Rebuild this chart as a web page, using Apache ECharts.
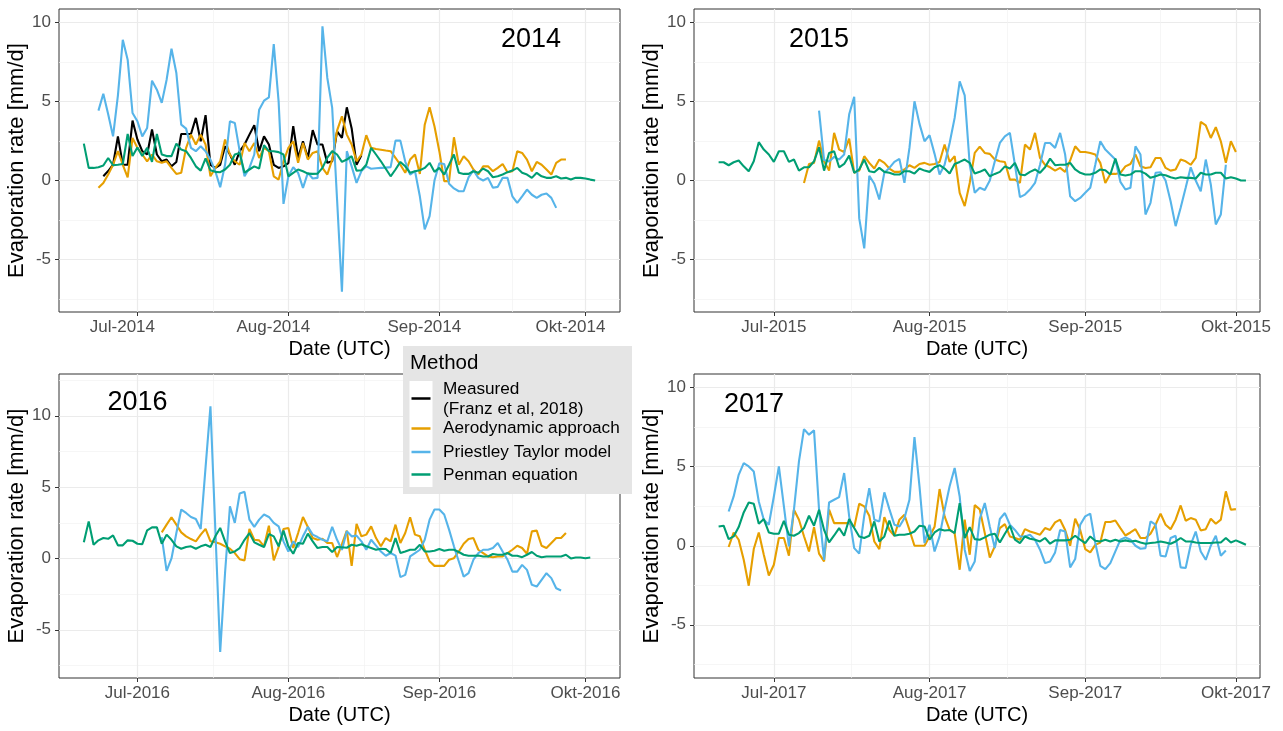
<!DOCTYPE html>
<html><head><meta charset="utf-8">
<script src="https://cdn.jsdelivr.net/npm/echarts@6/dist/echarts.min.js"></script>
<style>html,body{margin:0;padding:0;background:#fff}#c{width:1283px;height:731px}</style>
</head><body><div id="c"></div><script>
// ---------------- DATA ----------------
const monthStarts = ['07-01', '08-01', '09-01', '10-01'];
const xLabels2014 = ['Jul-2014', 'Aug-2014', 'Sep-2014', 'Okt-2014'];
const xLabels2015 = ['Jul-2015', 'Aug-2015', 'Sep-2015', 'Okt-2015'];
const xLabels2016 = ['Jul-2016', 'Aug-2016', 'Sep-2016', 'Okt-2016'];
const xLabels2017 = ['Jul-2017', 'Aug-2017', 'Sep-2017', 'Okt-2017'];
const yTicks = [-5, 0, 5, 10];
const yMinorTicks = [-7.5, -2.5, 2.5, 7.5];
const yMinorTicks2016 = [-7.5, -2.5, 2.5, 7.5, 12.5];
const methodNames = ['Measured\n(Franz et al, 2018)', 'Aerodynamic approach', 'Priestley Taylor model', 'Penman equation'];

// 2014
const measured2014Start = '2014-06-24';
const measured2014 = [0.27,0.6,1.0,2.8,1.0,1.0,3.8,2.6,1.86,1.65,3.23,1.65,1.22,1.33,0.9,1.18,2.95,2.95,2.95,3.97,2.49,4.14,1.0,0.8,1.0,2.17,1.65,1.0,1.86,2.28,2.91,3.5,1.86,2.8,2.28,1.0,0.8,0.9,1.1,3.44,1.43,2.49,1.43,3.19,2.28,2.28,1.12,1.22,3.12,2.7,4.64,3.3,1.0,1.6];
const aero2014Start = '2014-06-23';
const aero2014 = [-0.46,-0.15,0.38,1.0,1.86,1.0,0.2,2.7,2.07,1.65,1.22,1.65,1.22,1.12,1.22,0.8,0.42,0.49,2.07,2.91,2.28,2.91,2.28,0.27,0.8,1.22,2.6,1.65,1.22,1.0,2.38,1.86,2.38,1.43,2.07,1.86,0.27,0.06,1.22,2.07,2.49,1.12,2.38,1.33,1.75,1.86,0.8,0.38,1.33,3.16,4.07,2.91,2.28,1.22,1.65,2.87,2.07,2.0,1.95,1.9,1.86,1.43,1.0,0.49,1.33,1.65,0.42,3.54,4.64,3.44,1.86,-0.04,-0.04,2.74,1.0,1.54,1.22,0.7,0.38,0.9,0.9,0.59,0.8,1.05,0.53,0.59,1.86,1.75,1.33,0.59,1.18,1.0,0.7,0.38,1.12,1.33,1.33];
const pt2014Start = '2014-06-23';
const pt2014 = [4.43,5.5,4.2,2.8,5.4,8.92,7.66,4.28,3.76,2.8,3.33,6.33,5.76,4.92,6.39,8.35,6.81,3.54,3.29,2.07,1.86,2.17,1.86,1.33,0.59,-0.42,1.0,3.75,3.65,1.86,0.27,0.8,1.65,4.49,5.06,5.27,8.65,5.0,-1.48,0.27,0.84,0.49,-0.46,0.49,0.13,0.17,9.77,6.5,4.6,-1.2,-7.05,1.86,0.9,-0.15,0.6,0.9,0.75,0.78,0.8,0.82,0.85,2.53,2.53,1.2,0.38,0.6,-1.0,-3.1,-2.26,0.0,1.1,1.05,-0.2,-0.5,-0.68,-0.68,0.2,0.65,0.17,0.0,0.17,-0.46,-0.4,0.17,0.17,-1.0,-1.41,-1.0,-0.57,-0.9,-1.1,-0.9,-0.82,-1.1,-1.73];
const penman2014Start = '2014-06-20';
const penman2014 = [2.34,0.8,0.8,0.84,0.95,1.43,0.97,1.0,1.05,2.95,1.55,2.1,1.55,2.07,1.18,2.95,1.65,1.55,1.55,2.34,1.96,1.86,1.43,0.9,0.63,1.4,0.65,0.55,0.53,0.7,1.0,1.65,1.75,0.5,0.7,0.9,0.76,2.24,1.86,1.86,1.8,1.65,0.27,0.49,0.7,0.59,0.44,0.42,0.44,0.8,1.45,1.86,1.65,1.18,1.33,1.54,0.63,0.65,1.0,2.07,1.65,1.22,0.75,0.27,0.7,1.18,0.9,0.49,0.59,0.65,0.8,1.12,0.55,0.8,0.38,1.0,1.65,0.49,0.42,0.42,0.59,0.49,0.76,0.59,0.21,0.27,0.38,0.53,0.63,0.8,0.49,0.38,0.17,0.49,0.27,0.17,0.17,0.27,0.13,0.17,0.06,0.17,0.17,0.13,0.06,0.0];

// 2015
const aero2015Start = '2015-07-07';
const aero2015 = [-0.15,1.05,1.12,2.53,1.22,0.63,3.02,1.96,1.81,2.66,0.49,0.63,1.54,1.12,0.76,1.33,1.12,0.76,0.55,0.55,0.7,0.97,0.8,1.05,1.12,1.0,1.05,1.18,2.28,1.18,1.54,-0.78,-1.62,-0.15,1.75,2.15,1.75,1.69,1.33,1.22,1.18,0.06,0.06,-0.15,2.28,1.96,3.02,1.43,1.0,0.84,0.63,0.8,0.55,1.27,2.17,1.81,1.81,1.75,1.65,1.12,-0.15,0.42,0.42,0.49,0.9,1.05,1.65,0.9,0.8,0.84,1.43,1.43,0.8,0.63,0.7,1.33,1.22,1.0,1.43,3.71,3.5,2.7,3.38,2.49,1.12,2.49,1.81];
const pt2015Start = '2015-07-10';
const pt2015 = [4.43,1.3,1.2,1.5,1.33,1.65,4.2,5.3,-2.4,-4.3,0.3,-0.2,-1.2,0.5,0.8,1.18,1.37,-0.15,2.07,5.02,3.59,2.49,2.87,1.69,0.38,1.0,2.38,3.97,6.29,5.4,1.0,-0.78,-0.46,-0.6,0.0,1.22,2.38,2.8,3.02,1.0,-1.05,-0.89,-0.57,-0.15,1.0,2.38,2.38,2.07,3.02,1.65,-1.0,-1.31,-1.1,-0.78,-0.46,1.0,2.49,1.96,1.65,1.33,-0.08,-0.57,-0.46,2.17,1.65,-2.15,-1.41,0.49,0.53,0.0,-1.31,-2.89,-1.73,-0.46,0.84,0.0,-0.68,1.33,-0.25,-2.78,-2.15,1.0];
const penman2015Start = '2015-06-20';
const penman2015 = [1.16,1.16,0.97,1.16,1.27,0.9,0.59,1.22,2.43,1.96,1.65,1.18,1.86,1.86,1.18,1.33,0.63,0.84,0.84,1.22,2.11,0.63,1.75,1.86,0.84,1.05,1.58,0.49,0.7,1.33,0.59,0.53,0.8,0.55,0.49,0.38,0.38,0.59,0.59,0.44,0.76,0.63,0.55,0.84,0.97,0.76,0.44,1.05,1.18,1.33,1.12,0.44,0.55,0.7,0.27,0.42,0.55,0.9,0.76,1.12,0.38,0.34,0.55,0.7,0.49,0.84,1.39,0.97,1.0,1.0,1.12,0.7,0.49,0.38,0.38,0.49,0.7,0.65,0.38,1.39,0.38,0.32,0.38,0.59,0.59,0.44,0.17,0.27,0.38,0.34,0.21,0.13,0.21,0.17,0.17,0.13,0.49,0.38,0.38,0.49,0.49,0.13,0.21,0.13,0.0,0.0];

// 2016
const aero2016Start = '2016-07-06';
const aero2016 = [1.83,2.37,2.89,2.37,1.83,1.55,1.36,1.2,1.67,2.07,1.2,1.13,1.03,0.85,0.68,0.38,-0.05,-0.14,2.07,1.31,1.27,0.85,2.3,-0.14,0.8,2.07,2.14,0.73,1.78,2.91,2.21,1.43,1.31,1.38,1.08,1.08,0.1,1.0,1.95,-0.52,2.42,1.55,1.67,2.25,1.43,0.85,1.43,1.2,2.37,1.08,1.78,2.89,1.67,1.55,0.61,-0.2,-0.52,-0.52,-0.52,-0.09,0.02,0.49,1.03,1.36,1.43,0.61,0.38,0.14,0.09,0.14,0.14,0.38,0.61,0.89,0.73,0.33,1.9,1.95,0.89,0.73,1.08,1.43,1.43,1.78];
const pt2016Start = '2016-07-06';
const pt2016 = [1.5,-0.87,0.0,1.78,3.43,3.19,2.91,2.77,2.07,6.4,10.66,2.05,-6.55,-1.0,3.66,2.49,4.55,4.67,2.72,2.21,2.72,3.08,2.91,2.49,2.25,1.2,0.49,1.2,0.8,1.55,2.21,1.67,1.5,1.31,1.2,2.21,1.31,0.6,1.9,1.55,1.6,1.2,0.61,1.31,0.9,0.49,0.19,0.38,0.2,-1.31,-1.15,0.14,0.38,0.61,1.31,2.72,3.43,3.43,3.08,2.02,0.85,-0.21,-1.27,-1.03,-0.09,0.38,0.61,0.61,0.73,1.08,0.49,-0.09,-0.92,-0.92,-0.45,-0.8,-1.85,-1.97,-1.5,-1.03,-1.38,-2.09,-2.25];
const penman2016Start = '2016-06-20';
const penman2016 = [1.13,2.6,0.96,1.27,1.43,1.38,1.62,0.92,0.92,1.27,1.24,1.03,1.0,1.97,2.18,2.18,1.03,1.67,1.31,0.85,0.68,0.8,0.85,0.68,0.85,0.96,0.8,1.55,2.14,1.2,0.38,0.49,0.73,1.31,1.78,1.13,0.96,0.8,1.71,1.55,0.85,1.95,0.85,0.33,1.08,1.03,1.74,1.2,0.73,0.8,0.8,0.45,0.8,0.78,0.75,0.96,0.89,1.0,0.85,0.73,0.61,0.68,0.66,0.38,1.43,0.38,0.49,0.61,0.61,0.96,0.49,0.49,0.54,0.66,0.54,0.61,0.61,0.45,0.26,0.19,0.19,0.21,0.14,0.14,0.31,0.26,0.26,0.38,0.19,0.19,0.09,0.26,0.45,0.19,0.09,0.14,0.14,0.14,0.14,0.26,0.0,0.07,0.07,0.02,0.07];

// 2017
const aero2017Start = '2017-06-22';
const aero2017 = [-0.08,0.84,0.38,-0.89,-2.53,-0.21,0.84,-0.57,-1.88,-1.2,0.49,0.49,-0.63,2.28,1.65,0.6,-0.36,1.18,-0.5,-0.99,2.28,1.43,1.43,1.43,1.43,1.18,2.66,2.49,1.9,0.27,-0.21,1.81,1.0,0.63,1.65,1.96,1.0,0.0,0.0,0.0,0.59,1.2,3.59,1.86,1.0,0.8,-1.52,1.65,-0.57,2.57,2.3,0.8,-0.74,-0.04,1.12,1.37,0.59,0.49,0.38,1.05,0.9,0.8,0.7,1.12,1.0,1.48,1.65,1.0,0.0,1.71,1.0,-0.21,-0.42,0.06,0.2,1.5,1.5,1.6,1.12,0.65,0.84,1.05,0.49,0.49,0.76,1.33,2.03,1.33,1.05,1.65,2.55,1.58,1.75,1.65,0.97,1.05,1.71,1.39,1.65,3.44,2.28,2.32];
const pt2017Start = '2017-06-22';
const pt2017 = [2.17,3.12,4.49,5.23,5.02,4.7,2.8,1.65,1.33,3.12,5.02,2.49,-0.04,2.28,5.34,7.38,7.03,7.3,2.28,-0.89,2.74,2.91,3.08,4.6,1.86,-0.15,-0.5,1.9,3.65,1.65,1.54,3.38,2.32,1.33,1.22,1.75,2.91,6.88,3.76,0.17,1.33,-0.36,0.59,2.28,3.76,4.92,3.12,-0.25,-1.6,-0.99,1.7,2.7,1.2,-0.15,1.69,2.07,1.33,1.0,0.59,0.59,0.7,0.38,-0.25,-1.1,-0.99,-0.42,1.0,0.9,-1.37,-0.84,1.33,1.86,2.03,0.17,-1.27,-1.48,-1.1,-0.36,0.38,0.53,0.38,0.0,-0.19,-0.15,1.54,1.33,-0.63,-0.68,0.49,0.63,-1.37,-1.41,0.06,0.9,-0.36,-0.89,0.0,0.63,-0.63,-0.3];
const penman2017Start = '2017-06-20';
const penman2017 = [1.22,1.27,0.42,0.59,1.18,2.11,2.74,2.66,1.39,1.69,0.84,0.76,0.76,1.58,0.7,0.63,0.8,1.12,1.9,1.27,2.28,1.0,0.21,0.65,1.12,0.63,1.69,1.12,0.59,0.49,0.63,1.54,0.27,0.59,1.6,0.63,0.7,0.7,0.76,0.9,1.27,1.22,0.38,0.84,1.05,0.97,1.0,0.8,2.7,0.49,1.18,0.42,0.38,0.53,0.7,0.76,0.21,0.76,1.27,0.38,0.17,0.59,0.44,0.38,0.27,0.49,0.13,0.34,0.34,0.34,0.38,0.63,0.38,0.17,0.59,0.32,0.27,0.38,0.27,0.38,0.27,0.34,0.27,0.32,0.21,0.13,0.17,0.21,0.27,0.21,0.13,0.27,0.49,0.27,0.27,0.21,0.17,0.17,0.17,0.21,0.21,0.49,0.21,0.34,0.21,0.06];

// ---------------- STYLE / LAYOUT ----------------
const FONT = '"Liberation Sans", Arial, Helvetica, sans-serif';
const COLORS = { measured: '#000000', aero: '#E69F00', pt: '#56B4E9', penman: '#009E73' };

function dayOffset(year, dateStr) {
  const p = dateStr.split('-').map(Number);
  return (Date.UTC(p[0], p[1] - 1, p[2]) - Date.UTC(year, 6, 1)) / 86400000;
}
function toPairs(year, start, vals) {
  const s = dayOffset(year, start);
  return vals.map((v, i) => [s + i, v]);
}

const panels = [
  { year: 2014, left: 59, top: 9, width: 561, height: 303, xMin: -16.1, xMax: 99.1, yMin: -8.33, yMax: 10.87, yMinor: yMinorTicks, labels: xLabels2014, labelShift: 15,
    series: [['measured', measured2014Start, measured2014], ['aero', aero2014Start, aero2014], ['pt', pt2014Start, pt2014], ['penman', penman2014Start, penman2014]] },
  { year: 2015, left: 694, top: 9, width: 566, height: 303, xMin: -15.9, xMax: 96.8, yMin: -8.33, yMax: 10.87, yMinor: yMinorTicks, labels: xLabels2015, labelShift: 0,
    series: [['aero', aero2015Start, aero2015], ['pt', pt2015Start, pt2015], ['penman', penman2015Start, penman2015]] },
  { year: 2016, left: 59, top: 374, width: 561, height: 304, xMin: -16.1, xMax: 99.1, yMin: -8.38, yMax: 12.93, yMinor: yMinorTicks2016, labels: xLabels2016, labelShift: 0,
    series: [['aero', aero2016Start, aero2016], ['pt', pt2016Start, pt2016], ['penman', penman2016Start, penman2016]] },
  { year: 2017, left: 694, top: 374, width: 566, height: 304, xMin: -15.9, xMax: 96.8, yMin: -8.37, yMax: 10.87, yMinor: yMinorTicks, labels: xLabels2017, labelShift: 0,
    series: [['aero', aero2017Start, aero2017], ['pt', pt2017Start, pt2017], ['penman', penman2017Start, penman2017]] }
];
const seriesLabel = { measured: 'Measured (Franz et al, 2018)', aero: 'Aerodynamic approach', pt: 'Priestley Taylor model', penman: 'Penman equation' };

const grids = [], xAxes = [], yAxes = [], series = [];
panels.forEach((p, i) => {
  grids.push({ left: p.left, top: p.top, width: p.width, height: p.height, show: true,
    borderColor: '#333333', borderWidth: 1, backgroundColor: '#ffffff', containLabel: false, outerBoundsMode: 'none' });
  const xTicks = monthStarts.map(ms => dayOffset(p.year, p.year + '-' + ms));
  const xMinor = xTicks.slice(1).map((t, k) => (t + xTicks[k]) / 2);
  const labels = p.labels;
  xAxes.push({ gridIndex: i, type: 'value', min: p.xMin, max: p.xMax, position: 'bottom',
    name: 'Date (UTC)', nameLocation: 'middle', nameGap: 27,
    nameTextStyle: { fontFamily: FONT, fontSize: 20, color: '#000000' },
    axisLine: { show: false, onZero: false },
    axisTick: { show: true, length: 4, lineStyle: { color: '#333333', width: 1 }, customValues: xTicks },
    axisLabel: { show: true, customValues: xTicks, margin: 7, fontFamily: FONT, fontSize: 17, color: '#4D4D4D',
      padding: [0, 2 * p.labelShift, 0, 0],
      formatter: v => { const k = xTicks.findIndex(t => Math.abs(t - v) < 0.01); return k >= 0 ? labels[k] : ''; } },
    splitLine: { show: true, lineStyle: { color: '#EBEBEB', width: 1.2 } } });
  xAxes.push({ gridIndex: i, type: 'value', min: p.xMin, max: p.xMax, position: 'top',
    axisLine: { show: false, onZero: false }, axisTick: { show: false, customValues: xMinor },
    axisLabel: { show: false, customValues: xMinor },
    splitLine: { show: true, lineStyle: { color: '#F2F2F2', width: 0.7 } } });
  yAxes.push({ gridIndex: i, type: 'value', min: p.yMin, max: p.yMax, position: 'left',
    name: 'Evaporation rate [mm/d]', nameLocation: 'middle', nameGap: 29, nameRotate: 90,
    nameTextStyle: { fontFamily: FONT, fontSize: 22, color: '#000000' },
    axisLine: { show: false, onZero: false },
    axisTick: { show: true, length: 4, lineStyle: { color: '#333333', width: 1 }, customValues: yTicks },
    axisLabel: { show: true, customValues: yTicks, margin: 8, fontFamily: FONT, fontSize: 17, color: '#4D4D4D',
      formatter: v => String(Math.round(v)) },
    splitLine: { show: true, lineStyle: { color: '#EBEBEB', width: 1.2 } } });
  yAxes.push({ gridIndex: i, type: 'value', min: p.yMin, max: p.yMax, position: 'right',
    axisLine: { show: false, onZero: false }, axisTick: { show: false, customValues: p.yMinor },
    axisLabel: { show: false, customValues: p.yMinor },
    splitLine: { show: true, lineStyle: { color: '#F2F2F2', width: 0.7 } } });
  p.series.forEach(([key, start, vals]) => {
    series.push({ type: 'line', name: seriesLabel[key], xAxisIndex: 2 * i, yAxisIndex: 2 * i,
      data: toPairs(p.year, start, vals), showSymbol: false, symbol: 'none', silent: true,
      lineStyle: { width: 2.1, color: COLORS[key] }, itemStyle: { color: COLORS[key] }, z: 3 });
  });
});

// year labels and legend (ggplot-style, drawn over the panels)
const yearText = (txt, x, y) => ({ type: 'text', x: x, y: y, z: 50,
  style: { text: txt, fontFamily: FONT, fontSize: 27, fill: '#000000', align: 'center', verticalAlign: 'middle' } });
const legendKeys = [['measured', 398.5], ['aero', 428.5], ['pt', 452], ['penman', 474.5]];
const legendLabelY = [399.5, 428.5, 452, 475];
const legendEls = [
  { type: 'rect', z: 100, shape: { x: 403, y: 346, width: 229, height: 148 }, style: { fill: '#E5E5E5' } },
  { type: 'text', z: 101, x: 410, y: 363.5, style: { text: 'Method', fontFamily: FONT, fontSize: 20.5, fill: '#000000', verticalAlign: 'middle' } },
  { type: 'rect', z: 101, shape: { x: 409.5, y: 381, width: 23, height: 106 }, style: { fill: '#ffffff' } }
].concat(legendKeys.map(([k, y]) => ({ type: 'line', z: 102, shape: { x1: 411.5, y1: y, x2: 430.5, y2: y }, style: { stroke: COLORS[k], lineWidth: 2.5 } })))
 .concat(methodNames.map((n, j) => ({ type: 'text', z: 102, x: 443, y: legendLabelY[j],
    style: { text: n, fontFamily: FONT, fontSize: 17.2, lineHeight: 19.5, fill: '#000000', verticalAlign: 'middle' } })));
const graphic = [yearText('2014', 531, 40), yearText('2015', 819, 40), yearText('2016', 137.5, 403), yearText('2017', 754, 405)].concat(legendEls);

const chart = echarts.init(document.getElementById('c'), null, { renderer: 'canvas' });
chart.setOption({
  animation: false, backgroundColor: '#ffffff',
  textStyle: { fontFamily: FONT },
  grid: grids, xAxis: xAxes, yAxis: yAxes, series: series, graphic: graphic
});
</script></body></html>
